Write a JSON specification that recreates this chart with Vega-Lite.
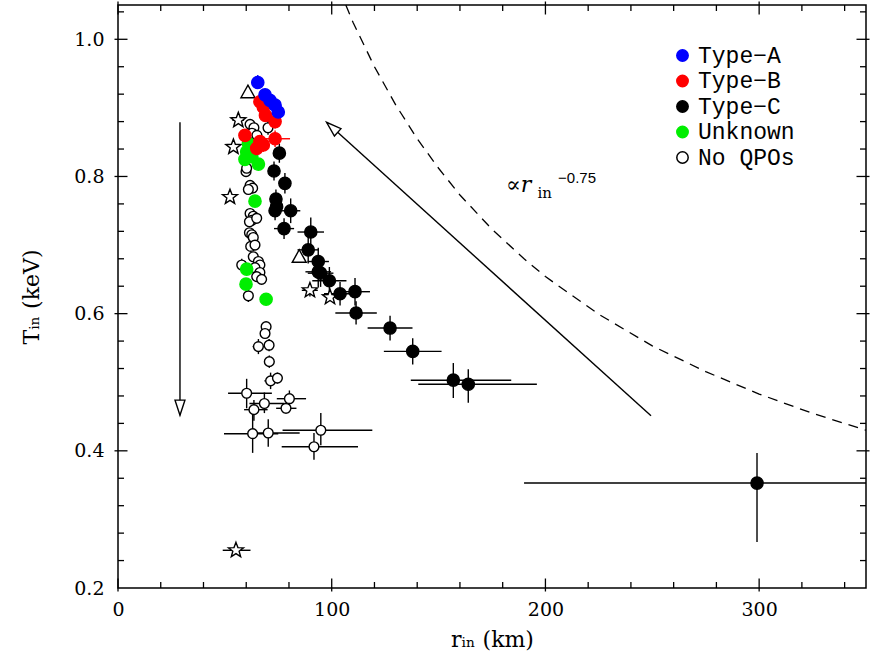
{
  "$schema": "https://vega.github.io/schema/vega-lite/v6.json",
  "width": 748,
  "height": 583,
  "autosize": {"type": "none"},
  "padding": {"left": 118, "top": 5, "right": 6, "bottom": 75},
  "background": "white",
  "config": {
    "view": {"stroke": "black", "strokeWidth": 1.5},
    "axis": {"domain": false, "grid": false, "ticks": false,
      "labelFont": "DejaVu Serif", "labelFontSize": 19, "labelColor": "black",
      "titleFont": "DejaVu Serif", "titleFontSize": 22, "titleFontWeight": "normal", "titleColor": "black",
      "labelOverlap": false, "labelBound": false, "labelFlush": false},
    "legend": {"labelFont": "Liberation Mono", "labelFontSize": 23, "labelOffset": 4, "rowPadding": 1.5, "symbolSize": 130, "symbolStrokeWidth": 1.5, "padding": 0}
  },
  "datasets": {
    "pts": [
      {"r":61.8,"T":0.876,"type":"No QPOs","marker":"circle"},
      {"r":63.6,"T":0.871,"type":"No QPOs","marker":"circle"},
      {"r":62.7,"T":0.863,"type":"No QPOs","marker":"circle"},
      {"r":65.0,"T":0.860,"type":"No QPOs","marker":"circle"},
      {"r":70.2,"T":0.871,"rlo":68.0,"rhi":72.4,"Tlo":0.861,"Thi":0.881,"type":"No QPOs","marker":"circle"},
      {"r":59.9,"T":0.807,"type":"No QPOs","marker":"circle"},
      {"r":60.2,"T":0.812,"type":"No QPOs","marker":"circle"},
      {"r":61.8,"T":0.787,"type":"No QPOs","marker":"circle"},
      {"r":63.0,"T":0.783,"type":"No QPOs","marker":"circle"},
      {"r":61.0,"T":0.781,"type":"No QPOs","marker":"circle"},
      {"r":61.8,"T":0.746,"type":"No QPOs","marker":"circle"},
      {"r":63.3,"T":0.742,"type":"No QPOs","marker":"circle"},
      {"r":62.6,"T":0.736,"type":"No QPOs","marker":"circle"},
      {"r":61.5,"T":0.734,"type":"No QPOs","marker":"circle"},
      {"r":64.9,"T":0.739,"type":"No QPOs","marker":"circle"},
      {"r":61.5,"T":0.718,"type":"No QPOs","marker":"circle"},
      {"r":62.6,"T":0.715,"type":"No QPOs","marker":"circle"},
      {"r":63.3,"T":0.711,"type":"No QPOs","marker":"circle"},
      {"r":62.1,"T":0.698,"type":"No QPOs","marker":"circle"},
      {"r":64.1,"T":0.700,"type":"No QPOs","marker":"circle"},
      {"r":63.3,"T":0.683,"type":"No QPOs","marker":"circle"},
      {"r":65.7,"T":0.676,"type":"No QPOs","marker":"circle"},
      {"r":66.4,"T":0.671,"type":"No QPOs","marker":"circle"},
      {"r":57.9,"T":0.671,"rlo":55.8,"rhi":60.0,"Tlo":0.662,"Thi":0.680,"type":"No QPOs","marker":"circle"},
      {"r":64.1,"T":0.667,"type":"No QPOs","marker":"circle"},
      {"r":66.4,"T":0.660,"type":"No QPOs","marker":"circle"},
      {"r":64.9,"T":0.654,"type":"No QPOs","marker":"circle"},
      {"r":67.2,"T":0.650,"type":"No QPOs","marker":"circle"},
      {"r":61.0,"T":0.626,"rlo":59.0,"rhi":63.0,"Tlo":0.617,"Thi":0.635,"type":"No QPOs","marker":"circle"},
      {"r":69.3,"T":0.581,"Tlo":0.574,"Thi":0.588,"type":"No QPOs","marker":"circle"},
      {"r":68.8,"T":0.571,"rlo":67.0,"rhi":70.6,"type":"No QPOs","marker":"circle"},
      {"r":65.7,"T":0.552,"rlo":63.0,"rhi":68.3,"Tlo":0.541,"Thi":0.563,"type":"No QPOs","marker":"circle"},
      {"r":70.7,"T":0.554,"rlo":68.8,"rhi":72.8,"Tlo":0.545,"Thi":0.563,"type":"No QPOs","marker":"circle"},
      {"r":70.8,"T":0.530,"rlo":68.5,"rhi":73.2,"Tlo":0.521,"Thi":0.539,"type":"No QPOs","marker":"circle"},
      {"r":71.4,"T":0.502,"rlo":68.5,"rhi":74.5,"Tlo":0.490,"Thi":0.514,"type":"No QPOs","marker":"circle"},
      {"r":74.6,"T":0.506,"rlo":72.5,"rhi":76.8,"Tlo":0.498,"Thi":0.514,"type":"No QPOs","marker":"circle"},
      {"r":60.2,"T":0.484,"rlo":51.5,"rhi":72.0,"Tlo":0.462,"Thi":0.505,"type":"No QPOs","marker":"circle"},
      {"r":68.5,"T":0.469,"rlo":61.5,"rhi":78.0,"Tlo":0.455,"Thi":0.485,"type":"No QPOs","marker":"circle"},
      {"r":63.6,"T":0.460,"rlo":59.0,"rhi":70.0,"Tlo":0.444,"Thi":0.474,"type":"No QPOs","marker":"circle"},
      {"r":80.2,"T":0.476,"rlo":74.3,"rhi":88.0,"Tlo":0.465,"Thi":0.488,"type":"No QPOs","marker":"circle"},
      {"r":78.6,"T":0.462,"rlo":74.0,"rhi":83.5,"Tlo":0.454,"Thi":0.470,"type":"No QPOs","marker":"circle"},
      {"r":63.0,"T":0.425,"rlo":49.6,"rhi":75.0,"Tlo":0.397,"Thi":0.455,"type":"No QPOs","marker":"circle"},
      {"r":70.3,"T":0.426,"rlo":62.0,"rhi":85.0,"Tlo":0.406,"Thi":0.446,"type":"No QPOs","marker":"circle"},
      {"r":94.9,"T":0.430,"rlo":77.0,"rhi":119.0,"Tlo":0.408,"Thi":0.455,"type":"No QPOs","marker":"circle"},
      {"r":91.7,"T":0.406,"rlo":76.6,"rhi":112.3,"Tlo":0.387,"Thi":0.426,"type":"No QPOs","marker":"circle"},
      {"r":56.3,"T":0.882,"rlo":53.5,"rhi":59.0,"type":"No QPOs","marker":"star"},
      {"r":54.0,"T":0.843,"type":"No QPOs","marker":"star"},
      {"r":52.4,"T":0.770,"type":"No QPOs","marker":"star"},
      {"r":89.8,"T":0.634,"rlo":86.0,"rhi":93.5,"Tlo":0.625,"Thi":0.643,"type":"No QPOs","marker":"star"},
      {"r":99.2,"T":0.624,"type":"No QPOs","marker":"star"},
      {"r":55.2,"T":0.255,"rlo":49.0,"rhi":62.0,"type":"No QPOs","marker":"star"},
      {"r":60.8,"T":0.923,"type":"No QPOs","marker":"triangle"},
      {"r":84.8,"T":0.683,"type":"No QPOs","marker":"triangle"},
      {"r":61.0,"T":0.848,"type":"Unknown","marker":"circle"},
      {"r":60.2,"T":0.836,"type":"Unknown","marker":"circle"},
      {"r":59.4,"T":0.825,"type":"Unknown","marker":"circle"},
      {"r":62.6,"T":0.829,"type":"Unknown","marker":"circle"},
      {"r":65.7,"T":0.818,"type":"Unknown","marker":"circle"},
      {"r":64.1,"T":0.764,"type":"Unknown","marker":"circle"},
      {"r":60.2,"T":0.665,"type":"Unknown","marker":"circle"},
      {"r":59.9,"T":0.643,"type":"Unknown","marker":"circle"},
      {"r":69.3,"T":0.621,"type":"Unknown","marker":"circle"},
      {"r":75.5,"T":0.834,"rlo":73.0,"rhi":78.0,"Tlo":0.820,"Thi":0.848,"type":"Type−C","marker":"circle"},
      {"r":73.0,"T":0.808,"rlo":71.0,"rhi":75.0,"Tlo":0.794,"Thi":0.822,"type":"Type−C","marker":"circle"},
      {"r":78.1,"T":0.790,"rlo":75.5,"rhi":80.7,"Tlo":0.775,"Thi":0.805,"type":"Type−C","marker":"circle"},
      {"r":73.9,"T":0.767,"rlo":72.0,"rhi":75.8,"Tlo":0.753,"Thi":0.781,"type":"Type−C","marker":"circle"},
      {"r":74.2,"T":0.756,"rlo":72.2,"rhi":76.2,"Tlo":0.742,"Thi":0.770,"type":"Type−C","marker":"circle"},
      {"r":73.5,"T":0.750,"rlo":71.5,"rhi":75.5,"Tlo":0.736,"Thi":0.764,"type":"Type−C","marker":"circle"},
      {"r":80.8,"T":0.750,"rlo":76.3,"rhi":85.3,"Tlo":0.732,"Thi":0.768,"type":"Type−C","marker":"circle"},
      {"r":77.7,"T":0.724,"rlo":73.0,"rhi":82.4,"Tlo":0.709,"Thi":0.739,"type":"Type−C","marker":"circle"},
      {"r":90.2,"T":0.719,"rlo":84.0,"rhi":96.4,"Tlo":0.698,"Thi":0.740,"type":"Type−C","marker":"circle"},
      {"r":89.0,"T":0.693,"rlo":84.0,"rhi":94.0,"Tlo":0.673,"Thi":0.713,"type":"Type−C","marker":"circle"},
      {"r":93.7,"T":0.676,"rlo":88.7,"rhi":98.7,"Tlo":0.656,"Thi":0.696,"type":"Type−C","marker":"circle"},
      {"r":93.7,"T":0.661,"rlo":87.7,"rhi":99.7,"Tlo":0.639,"Thi":0.683,"type":"Type−C","marker":"circle"},
      {"r":94.8,"T":0.659,"rlo":88.8,"rhi":100.8,"Tlo":0.639,"Thi":0.679,"type":"Type−C","marker":"circle"},
      {"r":98.9,"T":0.648,"rlo":90.9,"rhi":106.9,"Tlo":0.628,"Thi":0.668,"type":"Type−C","marker":"circle"},
      {"r":103.9,"T":0.629,"rlo":96.4,"rhi":111.4,"Tlo":0.612,"Thi":0.646,"type":"Type−C","marker":"circle"},
      {"r":110.9,"T":0.632,"rlo":103.9,"rhi":117.9,"Tlo":0.612,"Thi":0.652,"type":"Type−C","marker":"circle"},
      {"r":111.4,"T":0.601,"rlo":101.7,"rhi":121.1,"Tlo":0.584,"Thi":0.618,"type":"Type−C","marker":"circle"},
      {"r":127.3,"T":0.579,"rlo":116.8,"rhi":137.8,"Tlo":0.561,"Thi":0.597,"type":"Type−C","marker":"circle"},
      {"r":137.9,"T":0.545,"rlo":124.4,"rhi":151.4,"Tlo":0.526,"Thi":0.564,"type":"Type−C","marker":"circle"},
      {"r":156.9,"T":0.503,"rlo":137.0,"rhi":184.0,"Tlo":0.477,"Thi":0.528,"type":"Type−C","marker":"circle"},
      {"r":163.9,"T":0.497,"rlo":140.5,"rhi":196.0,"Tlo":0.470,"Thi":0.519,"type":"Type−C","marker":"circle"},
      {"r":299.0,"T":0.353,"rlo":190.0,"rhi":350.0,"Tlo":0.267,"Thi":0.397,"type":"Type−C","marker":"circle"},
      {"r":59.4,"T":0.860,"rlo":57.8,"rhi":61.0,"type":"Type−B","marker":"circle"},
      {"r":66.4,"T":0.909,"Tlo":0.900,"Thi":0.918,"type":"Type−B","marker":"circle"},
      {"r":68.0,"T":0.901,"Tlo":0.892,"Thi":0.910,"type":"Type−B","marker":"circle"},
      {"r":69.0,"T":0.889,"Tlo":0.880,"Thi":0.898,"type":"Type−B","marker":"circle"},
      {"r":73.5,"T":0.880,"rlo":71.5,"rhi":75.5,"Tlo":0.870,"Thi":0.890,"type":"Type−B","marker":"circle"},
      {"r":73.5,"T":0.855,"rlo":66.5,"rhi":80.5,"Tlo":0.843,"Thi":0.867,"type":"Type−B","marker":"circle"},
      {"r":66.4,"T":0.851,"rlo":64.5,"rhi":68.5,"Tlo":0.841,"Thi":0.861,"type":"Type−B","marker":"circle"},
      {"r":68.0,"T":0.846,"Tlo":0.836,"Thi":0.856,"type":"Type−B","marker":"circle"},
      {"r":64.9,"T":0.841,"Tlo":0.832,"Thi":0.850,"type":"Type−B","marker":"circle"},
      {"r":65.4,"T":0.937,"rlo":64.2,"rhi":66.6,"Tlo":0.928,"Thi":0.948,"type":"Type−A","marker":"circle"},
      {"r":68.8,"T":0.919,"rlo":67.3,"rhi":70.3,"Tlo":0.911,"Thi":0.927,"type":"Type−A","marker":"circle"},
      {"r":71.1,"T":0.911,"Tlo":0.903,"Thi":0.919,"type":"Type−A","marker":"circle"},
      {"r":73.5,"T":0.904,"Tlo":0.896,"Thi":0.912,"type":"Type−A","marker":"circle"},
      {"r":75.0,"T":0.894,"rlo":73.5,"rhi":76.5,"Tlo":0.886,"Thi":0.902,"type":"Type−A","marker":"circle"}
    ],
    "model": [
      {"r":106.6,"T":1.05},{"r":110,"T":1.0245},{"r":120,"T":0.960},{"r":130,"T":0.904},
      {"r":140,"T":0.855},{"r":150,"T":0.812},{"r":160,"T":0.773},{"r":175,"T":0.723},{"r":190,"T":0.680},
      {"r":200,"T":0.654},{"r":225,"T":0.599},{"r":250,"T":0.553},{"r":275,"T":0.5155},{"r":300,"T":0.4828},
      {"r":325,"T":0.4546},{"r":350,"T":0.430}
    ],
    "arrows": [
      {"id":"vertical","r":29,"T":0.879,"r2":29,"T2":0.452},
      {"id":"diagonal","r":249.4,"T":0.451,"r2":97.6,"T2":0.879}
    ],
    "notes": [
      {"piece":"prop","r":181.5,"T":0.777,"label":"∝r"},
      {"piece":"sub","r":196.3,"T":0.768,"label":"in"},
      {"piece":"exp","r":205.9,"T":0.790,"label":"−0.75"}
    ],
    "xticks": [
      {"v":0,"major":true},{"v":20,"major":false},{"v":40,"major":false},{"v":60,"major":false},{"v":80,"major":false},
      {"v":100,"major":true},{"v":120,"major":false},{"v":140,"major":false},{"v":160,"major":false},{"v":180,"major":false},
      {"v":200,"major":true},{"v":220,"major":false},{"v":240,"major":false},{"v":260,"major":false},{"v":280,"major":false},
      {"v":300,"major":true},{"v":320,"major":false},{"v":340,"major":false}
    ],
    "yticks": [
      {"v":0.24,"major":false},{"v":0.28,"major":false},{"v":0.32,"major":false},{"v":0.36,"major":false},
      {"v":0.4,"major":true},{"v":0.44,"major":false},{"v":0.48,"major":false},{"v":0.52,"major":false},{"v":0.56,"major":false},
      {"v":0.6,"major":true},{"v":0.64,"major":false},{"v":0.68,"major":false},{"v":0.72,"major":false},{"v":0.76,"major":false},
      {"v":0.8,"major":true},{"v":0.84,"major":false},{"v":0.88,"major":false},{"v":0.92,"major":false},{"v":0.96,"major":false},
      {"v":1.0,"major":true},{"v":1.04,"major":false}
    ]
  },
  "layer": [
    {
      "data": {"name": "pts"},
      "transform": [{"filter": "isValid(datum.rlo)"}],
      "mark": {"type": "rule", "strokeWidth": 1.4},
      "encoding": {
        "x": {"field": "rlo", "type": "quantitative",
          "scale": {"domain": [0, 350], "nice": false, "zero": false},
          "axis": {"orient": "bottom", "values": [0, 100, 200, 300], "format": "d",
            "labelPadding": 12, "title": "rᵢₙ (km)", "titlePadding": 10}},
        "x2": {"field": "rhi"},
        "y": {"field": "T", "type": "quantitative",
          "scale": {"domain": [0.2, 1.05], "nice": false, "zero": false},
          "axis": {"orient": "left", "values": [0.2, 0.4, 0.6, 0.8, 1.0], "format": ".1f",
            "labelPadding": 14, "title": "Tᵢₙ (keV)", "titlePadding": 30}},
        "stroke": {"field": "type", "type": "nominal",
          "scale": {"domain": ["Type−A","Type−B","Type−C","Unknown","No QPOs"], "range": ["#0000ff","#ff0000","#000000","#00ee00","#000000"]}}
      }
    },
    {
      "data": {"name": "pts"},
      "transform": [{"filter": "isValid(datum.Tlo)"}],
      "mark": {"type": "rule", "strokeWidth": 1.4},
      "encoding": {
        "x": {"field": "r", "type": "quantitative"},
        "y": {"field": "Tlo", "type": "quantitative"},
        "y2": {"field": "Thi"},
        "stroke": {"field": "type", "type": "nominal"}
      }
    },
    {
      "data": {"name": "xticks"},
      "mark": {"type": "tick", "orient": "vertical", "thickness": 1.3, "color": "black", "opacity": 1},
      "encoding": {
        "x": {"field": "v", "type": "quantitative"},
        "y": {"datum": 0.2},
        "size": {"condition": {"test": "datum.major", "value": 13}, "value": 6},
        "yOffset": {"condition": {"test": "datum.major", "value": -6.5}, "value": -3}
      }
    },
    {
      "data": {"name": "xticks"},
      "mark": {"type": "tick", "orient": "vertical", "thickness": 1.3, "color": "black", "opacity": 1},
      "encoding": {
        "x": {"field": "v", "type": "quantitative"},
        "y": {"datum": 1.05},
        "size": {"condition": {"test": "datum.major", "value": 13}, "value": 6},
        "yOffset": {"condition": {"test": "datum.major", "value": 6.5}, "value": 3}
      }
    },
    {
      "data": {"name": "yticks"},
      "mark": {"type": "tick", "orient": "horizontal", "thickness": 1.3, "color": "black", "opacity": 1},
      "encoding": {
        "y": {"field": "v", "type": "quantitative"},
        "x": {"datum": 0},
        "size": {"condition": {"test": "datum.major", "value": 13}, "value": 6},
        "xOffset": {"condition": {"test": "datum.major", "value": 6.5}, "value": 3}
      }
    },
    {
      "data": {"name": "yticks"},
      "mark": {"type": "tick", "orient": "horizontal", "thickness": 1.3, "color": "black", "opacity": 1},
      "encoding": {
        "y": {"field": "v", "type": "quantitative"},
        "x": {"datum": 350},
        "size": {"condition": {"test": "datum.major", "value": 13}, "value": 6},
        "xOffset": {"condition": {"test": "datum.major", "value": -6.5}, "value": -3}
      }
    },
    {
      "data": {"name": "model"},
      "mark": {"type": "line", "color": "black", "strokeWidth": 1.3, "strokeDash": [10, 7]},
      "encoding": {"x": {"field": "r", "type": "quantitative"}, "y": {"field": "T", "type": "quantitative"}}
    },
    {
      "data": {"name": "arrows"},
      "mark": {"type": "rule", "color": "black", "strokeWidth": 1.4},
      "encoding": {
        "x": {"field": "r", "type": "quantitative"}, "y": {"field": "T", "type": "quantitative"},
        "x2": {"field": "r2"}, "y2": {"field": "T2"}
      }
    },
    {
      "data": {"name": "arrows"},
      "mark": {"type": "point", "shape": "M-0.33,-1L0.33,-1L0,0Z", "size": 900, "filled": true, "fill": "white", "stroke": "black", "strokeWidth": 1.4, "opacity": 1},
      "encoding": {
        "x": {"field": "r2", "type": "quantitative"}, "y": {"field": "T2", "type": "quantitative"},
        "angle": {"condition": {"test": "datum.id === 'diagonal'", "value": 132}, "value": 0}
      }
    },
    {
      "data": {"name": "pts"},
      "mark": {"type": "point", "strokeWidth": 1.4, "opacity": 1, "filled": true},
      "encoding": {
        "x": {"field": "r", "type": "quantitative"},
        "y": {"field": "T", "type": "quantitative"},
        "shape": {"field": "marker", "type": "nominal",
          "scale": {"domain": ["circle", "triangle", "star"],
            "range": ["circle", "M0,-1L1,0.8L-1,0.8Z", "M0,-1L0.247,-0.34L0.951,-0.309L0.399,0.13L0.588,0.809L0,0.42L-0.588,0.809L-0.399,0.13L-0.951,-0.309L-0.247,-0.34Z"]},
          "legend": null},
        "fill": {"field": "type", "type": "nominal",
          "scale": {"domain": ["Type−A","Type−B","Type−C","Unknown","No QPOs"], "range": ["#0000ff","#ff0000","#000000","#00ee00","#ffffff"]},
          "legend": {"orient": "none", "legendX": 553, "legendY": 39, "title": null, "symbolType": "circle",
            "labelFont": "Liberation Mono", "labelFontSize": 23, "labelOffset": 4, "rowPadding": 1.5, "symbolSize": 130,
            "encode": {
              "labels": {"fill": {"condition": [
                {"test": "datum.value === 'Type−A'", "value": "#0000ff"},
                {"test": "datum.value === 'Type−B'", "value": "#ff0000"},
                {"test": "datum.value === 'Unknown'", "value": "#00ee00"}], "value": "#000000"}}
            }}},
        "stroke": {"field": "type", "type": "nominal",
          "legend": {"orient": "none", "legendX": 553, "legendY": 39, "title": null, "symbolType": "circle",
            "labelFont": "Liberation Mono", "labelFontSize": 23, "labelOffset": 4, "rowPadding": 1.5, "symbolSize": 130,
            "encode": {
              "labels": {"fill": {"condition": [
                {"test": "datum.value === 'Type−A'", "value": "#0000ff"},
                {"test": "datum.value === 'Type−B'", "value": "#ff0000"},
                {"test": "datum.value === 'Unknown'", "value": "#00ee00"}], "value": "#000000"}}
            }}},
        "size": {"condition": [{"test": "datum.marker === 'star'", "value": 250}, {"test": "datum.marker === 'triangle'", "value": 196}, {"test": "datum.type === 'No QPOs'", "value": 95}], "value": 150}
      }
    },
    {
      "data": {"name": "notes"},
      "transform": [{"filter": "datum.piece === 'prop'"}],
      "mark": {"type": "text", "font": "DejaVu Serif", "fontStyle": "italic", "fontSize": 22, "align": "left", "baseline": "alphabetic", "color": "black"},
      "encoding": {"x": {"field": "r", "type": "quantitative"}, "y": {"field": "T", "type": "quantitative"}, "text": {"field": "label"}}
    },
    {
      "data": {"name": "notes"},
      "transform": [{"filter": "datum.piece === 'sub'"}],
      "mark": {"type": "text", "font": "DejaVu Serif", "fontSize": 15, "align": "left", "baseline": "alphabetic", "color": "black"},
      "encoding": {"x": {"field": "r", "type": "quantitative"}, "y": {"field": "T", "type": "quantitative"}, "text": {"field": "label"}}
    },
    {
      "data": {"name": "notes"},
      "transform": [{"filter": "datum.piece === 'exp'"}],
      "mark": {"type": "text", "font": "Liberation Sans", "fontSize": 15, "align": "left", "baseline": "alphabetic", "color": "black"},
      "encoding": {"x": {"field": "r", "type": "quantitative"}, "y": {"field": "T", "type": "quantitative"}, "text": {"field": "label"}}
    }
  ]
}
